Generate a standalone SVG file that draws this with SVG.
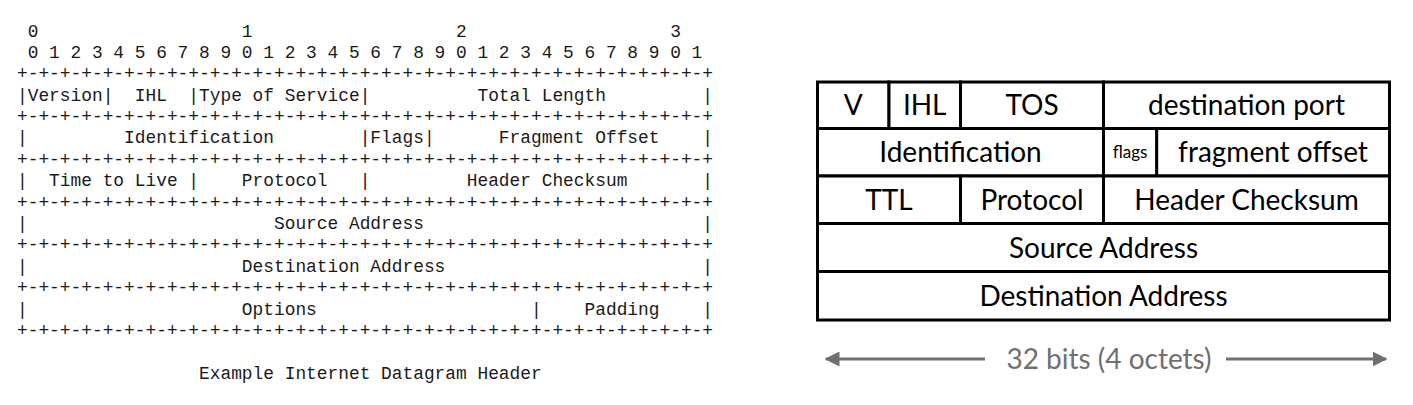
<svg xmlns="http://www.w3.org/2000/svg" width="1413" height="405" viewBox="0 0 1413 405">
<style>
.mono{font-family:"Liberation Mono","Courier New",monospace;font-size:17.85px;fill:#1a1a1a;white-space:pre}
.cell{fill:#fff;stroke:#000;stroke-width:3}
.lbl{font-family:Lato,"Open Sans",sans-serif;font-size:28px;fill:#000;text-anchor:middle}
.small{font-size:17px}
.dim{font-family:Lato,"Open Sans",sans-serif;font-size:28px;fill:#707070;text-anchor:middle}
.arr{stroke:#707070;stroke-width:3;fill:none}
</style>
<defs>
<marker id="ah" viewBox="0 0 10 10" refX="9" refY="5" markerWidth="5" markerHeight="5" orient="auto-start-reverse" markerUnits="strokeWidth">
<path d="M0,0 L10,5 L0,10 z" fill="#707070"/>
</marker>
</defs>
<rect width="1413" height="405" fill="#fff"/>
<g id="rfc-ascii" xml:space="preserve">
<text class="mono" x="17" y="36.5"> 0                   1                   2                   3</text>
<text class="mono" x="17" y="57.5"> 0 1 2 3 4 5 6 7 8 9 0 1 2 3 4 5 6 7 8 9 0 1 2 3 4 5 6 7 8 9 0 1</text>
<text class="mono" x="17" y="79">+-+-+-+-+-+-+-+-+-+-+-+-+-+-+-+-+-+-+-+-+-+-+-+-+-+-+-+-+-+-+-+-+</text>
<text class="mono" x="17" y="100.5">|Version|  IHL  |Type of Service|          Total Length         |</text>
<text class="mono" x="17" y="122">+-+-+-+-+-+-+-+-+-+-+-+-+-+-+-+-+-+-+-+-+-+-+-+-+-+-+-+-+-+-+-+-+</text>
<text class="mono" x="17" y="143.3">|         Identification        |Flags|      Fragment Offset    |</text>
<text class="mono" x="17" y="164.8">+-+-+-+-+-+-+-+-+-+-+-+-+-+-+-+-+-+-+-+-+-+-+-+-+-+-+-+-+-+-+-+-+</text>
<text class="mono" x="17" y="186.2">|  Time to Live |    Protocol   |         Header Checksum       |</text>
<text class="mono" x="17" y="207.6">+-+-+-+-+-+-+-+-+-+-+-+-+-+-+-+-+-+-+-+-+-+-+-+-+-+-+-+-+-+-+-+-+</text>
<text class="mono" x="17" y="229">|                       Source Address                          |</text>
<text class="mono" x="17" y="250.4">+-+-+-+-+-+-+-+-+-+-+-+-+-+-+-+-+-+-+-+-+-+-+-+-+-+-+-+-+-+-+-+-+</text>
<text class="mono" x="17" y="271.8">|                    Destination Address                        |</text>
<text class="mono" x="17" y="293.2">+-+-+-+-+-+-+-+-+-+-+-+-+-+-+-+-+-+-+-+-+-+-+-+-+-+-+-+-+-+-+-+-+</text>
<text class="mono" x="17" y="314.6">|                    Options                    |    Padding    |</text>
<text class="mono" x="17" y="336">+-+-+-+-+-+-+-+-+-+-+-+-+-+-+-+-+-+-+-+-+-+-+-+-+-+-+-+-+-+-+-+-+</text>
<text class="mono" x="17" y="378.8">                 Example Internet Datagram Header</text>
</g>
<g id="field-v"><rect class="cell" x="817.5" y="82" width="71.5" height="46.5"/><text class="lbl" x="853.2" y="115">V</text></g>
<g id="field-ihl"><rect class="cell" x="889" y="82" width="71.5" height="46.5"/><text class="lbl" x="924.7" y="115">IHL</text></g>
<g id="field-tos"><rect class="cell" x="960.5" y="82" width="143" height="46.5"/><text class="lbl" x="1032" y="115">TOS</text></g>
<g id="field-dport"><rect class="cell" x="1103.5" y="82" width="286" height="46.5"/><text class="lbl" x="1246.5" y="115">destination port</text></g>
<g id="field-id"><rect class="cell" x="817.5" y="128.5" width="286" height="47.5"/><text class="lbl" x="960.5" y="162">Identification</text></g>
<g id="field-fragoff"><rect class="cell" x="1156.6" y="128.5" width="232.9" height="47.5"/><text class="lbl" x="1273" y="162">fragment offset</text></g>
<g id="field-flags"><rect class="cell" x="1103.5" y="128.5" width="53.1" height="47.5" stroke-width="3.5"/><text class="lbl small" x="1130" y="158">flags</text></g>
<g id="field-ttl"><rect class="cell" x="817.5" y="176" width="143" height="47.5"/><text class="lbl" x="889" y="210">TTL</text></g>
<g id="field-proto"><rect class="cell" x="960.5" y="176" width="143" height="47.5"/><text class="lbl" x="1032" y="210">Protocol</text></g>
<g id="field-cksum"><rect class="cell" x="1103.5" y="176" width="286" height="47.5"/><text class="lbl" x="1246.5" y="210">Header Checksum</text></g>
<g id="field-src"><rect class="cell" x="817.5" y="223.5" width="572" height="48"/><text class="lbl" x="1103.5" y="258">Source Address</text></g>
<g id="field-dst"><rect class="cell" x="817.5" y="271.5" width="572" height="48.5"/><text class="lbl" x="1103.5" y="306">Destination Address</text></g>
<g id="connectors">
<line class="arr" x1="985" y1="359" x2="826" y2="359" marker-end="url(#ah)"/>
<line class="arr" x1="1226" y1="359" x2="1386" y2="359" marker-end="url(#ah)"/>
</g>
<text id="width-label" class="dim" x="1109" y="369">32 bits (4 octets)</text>
</svg>
